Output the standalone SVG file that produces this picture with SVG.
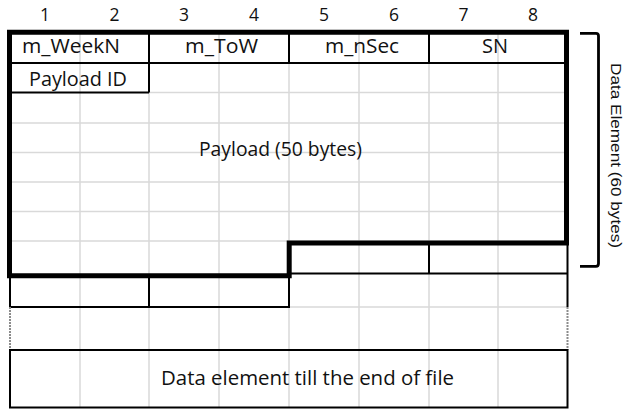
<svg xmlns="http://www.w3.org/2000/svg" width="627" height="410" viewBox="0 0 627 410">
  <style>
    .grid { stroke: #d9d9d9; stroke-width: 1.5; fill: none; }
    .thin { stroke: #000; stroke-width: 2; fill: none; }
    .thick { stroke: #000; stroke-width: 5; fill: none; stroke-linejoin: miter; }
    .dots { stroke: #8c8c8c; stroke-width: 2; stroke-dasharray: 2 1; fill: none; }
    text { font-family: "Open Sans", "Liberation Sans", sans-serif; fill: #111; }
    .num { font-size: 17.5px; text-anchor: middle; }
    .cell { font-size: 19.5px; }
    .side { font-family: "Liberation Sans", "Open Sans", sans-serif; font-size: 15.5px; text-anchor: middle; }
  </style>

  <rect width="627" height="410" fill="#fff"/>

  <!-- byte column numbers -->
  <g id="byte-index">
    <text class="num" x="45" y="21">1</text>
    <text class="num" x="114.5" y="21">2</text>
    <text class="num" x="184" y="21">3</text>
    <text class="num" x="254" y="21">4</text>
    <text class="num" x="324" y="21">5</text>
    <text class="num" x="394" y="21">6</text>
    <text class="num" x="463.5" y="21">7</text>
    <text class="num" x="533" y="21">8</text>
  </g>

  <!-- spreadsheet gridlines -->
  <g id="gridlines">
    <path class="grid" d="M80,32 V407.5 M149,32 V407.5 M219,32 V407.5 M289,32 V407.5 M359,32 V407.5 M429,32 V407.5 M498,32 V407.5"/>
    <path class="grid" d="M149,92.5 H567 M10,123 H567 M10,152.5 H567 M10,182 H567 M10,211.5 H567 M10,241 H567 M289,307 H567.5"/>
  </g>

  <!-- header fields -->
  <g id="header">
    <path class="thin" d="M10,63 H567 M149,32 V92.5 M289,32 V63 M429,32 V63"/>
    <text class="cell" x="22" y="53" textLength="98" lengthAdjust="spacingAndGlyphs">m_WeekN</text>
    <text class="cell" x="185" y="53" textLength="73" lengthAdjust="spacingAndGlyphs">m_ToW</text>
    <text class="cell" x="325" y="53" textLength="74" lengthAdjust="spacingAndGlyphs">m_nSec</text>
    <text class="cell" x="482" y="53" textLength="26" lengthAdjust="spacingAndGlyphs">SN</text>
  </g>

  <g id="payload-id">
    <path class="thin" d="M10,92.5 H149"/>
    <text class="cell" x="29" y="85.5" textLength="98" lengthAdjust="spacingAndGlyphs">Payload ID</text>
  </g>

  <g id="payload">
    <text class="cell" x="199" y="155.5" textLength="163" lengthAdjust="spacingAndGlyphs">Payload (50 bytes)</text>
  </g>

  <!-- following record cells -->
  <g id="next-record">
    <path class="thin" d="M429,243 V273.5 M289,273.5 H567.5 M567.5,243 V307"/>
    <path class="thin" d="M10,276 V307 H289 V276 M149,276 V307"/>
    <path class="dots" d="M10,307 V350 M567.5,307 V350"/>
  </g>

  <g id="end-of-file">
    <rect class="thin" x="10" y="350" width="557.5" height="57.5"/>
    <text class="cell" x="161" y="385" textLength="293" lengthAdjust="spacingAndGlyphs">Data element till the end of file</text>
  </g>

  <!-- 60-byte data element outline -->
  <g id="data-element">
    <path class="thick" d="M9.5,32.3 H566.5 V243 H289.2 V275.8 H9.5 Z"/>
  </g>

  <g id="connectors">
    <path d="M580,33.3 H596 Q598.5,33.3 598.5,36 V263.5 Q598.5,266.3 596,266.3 H580" stroke="#000" stroke-width="2.8" fill="none"/>
  </g>

  <g id="data-element-label">
    <text class="side" transform="translate(611,155.5) rotate(90)" x="0" y="0" textLength="185" lengthAdjust="spacingAndGlyphs">Data Element (60 bytes)</text>
  </g>
</svg>
